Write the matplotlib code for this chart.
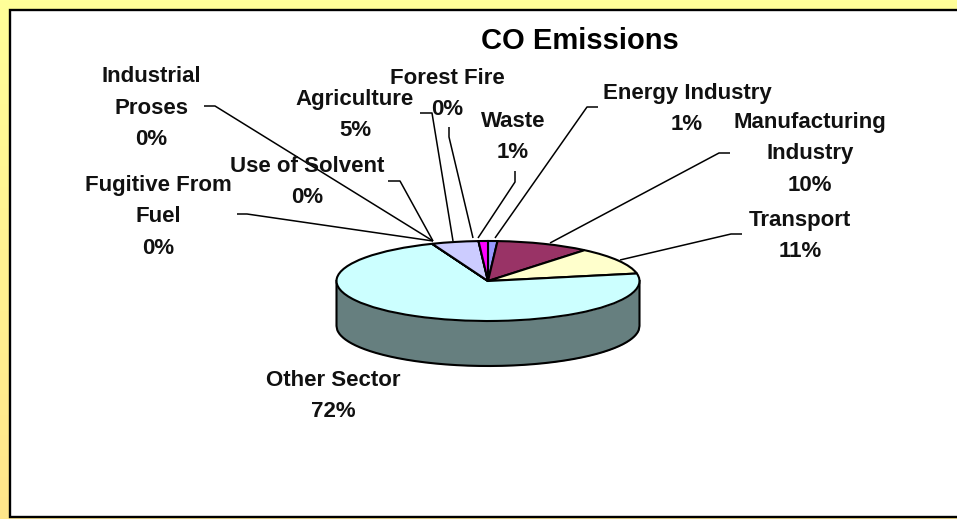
import numpy as np
import matplotlib
matplotlib.use("Agg")
import matplotlib.pyplot as plt
from matplotlib.patches import Rectangle
from matplotlib.colors import LinearSegmentedColormap

plt.rcParams['font.family'] = ['Liberation Sans', 'DejaVu Sans']

W, H = 957, 519
title = "CO Emissions"
categories = ["Energy Industry", "Manufacturing\nIndustry", "Transport", "Other Sector",
              "Fugitive From\nFuel", "Use of Solvent", "Industrial\nProses",
              "Agriculture", "Forest Fire", "Waste"]
values = [1, 10, 11, 72, 0, 0, 0, 5, 0, 1]
colors = ["#9999FF", "#993366", "#FFFFCC", "#CCFFFF", "#660066", "#FF8080",
          "#0066CC", "#CCCCFF", "#000080", "#FF00FF"]
side_color = "#667F7F"

label_pos = [(687, 109), (810, 154), (800, 236), (333, 396), (158, 217),
             (307, 182), (151, 108), (355, 115), (447, 94), (513, 137)]
leaders = [
    [(598, 107), (587, 107), (495, 238)],
    [(730, 153), (719, 153), (550, 243)],
    [(742, 234), (731, 234), (620, 260)],
    None,
    [(237, 214), (247, 214), (433, 241)],
    [(388, 181), (400, 181), (433, 241)],
    [(204, 106), (215, 106), (433, 241)],
    [(420, 113), (432, 113), (453, 241)],
    [(449, 127), (449, 137), (473, 238)],
    [(515, 171), (515, 182), (478, 238)],
]

fig = plt.figure(figsize=(W / 100, H / 100), dpi=100)
ax = fig.add_axes([0, 0, 1, 1])
ax.set_xlim(0, W)
ax.set_ylim(H, 0)
ax.axis("off")

cmap = LinearSegmentedColormap.from_list("bg", ["#FFFF99", "#FFE68A"])
ax.imshow(np.linspace(0, 1, 256).reshape(-1, 1), cmap=cmap, extent=(0, W, H, 0),
          aspect="auto", zorder=0)
ax.set_xlim(0, W)
ax.set_ylim(H, 0)
ax.add_patch(Rectangle((10, 10), W + 20, 507, facecolor="white", edgecolor="black",
                       linewidth=1.7, zorder=1))

for path in leaders:
    if path:
        xs, ys = zip(*path)
        ax.plot(xs, ys, color="black", lw=1.1, zorder=2, solid_capstyle="butt")

for name, v, (x, y) in zip(categories, values, label_pos):
    ax.text(x, y, f"{name}\n{v}%", ha="center", va="center", fontsize=16, fontweight="bold",
            linespacing=1.65, color="#111111", zorder=5)
ax.text(580, 41, title, ha="center", va="center", fontsize=21, fontweight="bold", zorder=5)

# elliptical 3-D looking pie: a pie in a squashed axes
cx, cy, rx, ry, depth = 488, 281, 151.5, 40, 45
pie_ax = fig.add_axes([(cx - rx) / W, 1 - (cy + ry) / H, 2 * rx / W, 2 * ry / H], zorder=3)
x = np.linspace(-1, 1, 400)
low = -np.sqrt(1 - x ** 2)
d = depth / ry
pie_ax.fill_between(x, low, low - d, color=side_color, clip_on=False, zorder=1, linewidth=0)
outline_x = np.concatenate([[-1], x, [1]])
outline_y = np.concatenate([[0], low - d, [0]])
pie_ax.plot(outline_x, outline_y, color="black", lw=1.5, clip_on=False, zorder=1,
            solid_joinstyle="round")
wedges, _ = pie_ax.pie(values, colors=colors, startangle=90, counterclock=False, radius=1,
                       wedgeprops=dict(edgecolor="black", linewidth=1.5), normalize=True)
for w in wedges:
    w.set_clip_on(False)
    w.set_zorder(2)
pie_ax.set_aspect("auto")
pie_ax.set_xlim(-1, 1)
pie_ax.set_ylim(-1, 1)
pie_ax.patch.set_alpha(0)
pie_ax.axis("off")

fig.savefig("out.png", dpi=100)
